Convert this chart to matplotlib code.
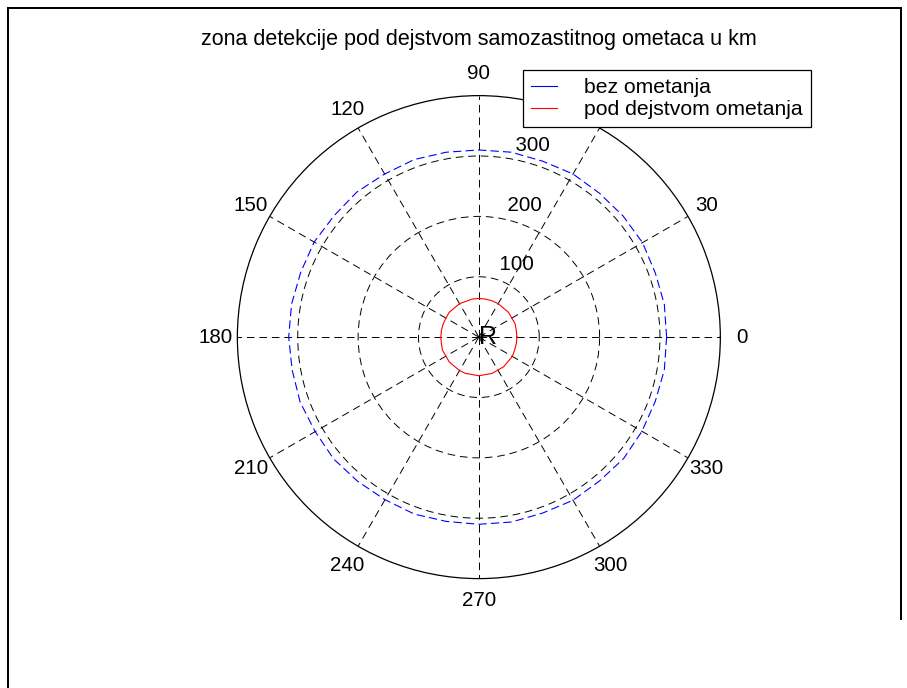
"""MATLAB-style polar plot: detection zone with and without self-protection jamming."""

import numpy as np
import matplotlib

matplotlib.use("Agg")
import matplotlib.pyplot as plt
from matplotlib.lines import Line2D

plt.rcParams["font.family"] = ["Liberation Sans", "DejaVu Sans"]
plt.rcParams["lines.scale_dashes"] = False

# ---------------------------------------------------------------------------
# data (radius in km, every 10 degrees)
# ---------------------------------------------------------------------------
angles_deg = [0, 10, 20, 30, 40, 50, 60, 70, 80, 90, 100, 110, 120,
              130, 140, 150, 160, 170, 180, 190, 200, 210, 220, 230, 240,
              250, 260, 270, 280, 290, 300, 310, 320, 330, 340, 350, 360]
r_bez = [311, 312, 311, 313, 312, 311, 312, 310, 311, 310, 311, 313, 312,
         314, 313, 315, 314, 315, 315, 314, 315, 313, 314, 312, 311,
         312, 310, 310, 311, 310, 312, 311, 313, 312, 311, 312, 311]
r_pod = [63, 63, 64, 63, 64, 63, 64, 64, 64, 64, 64, 63, 64,
         63, 64, 63, 63, 63, 63, 63, 64, 63, 64, 63, 64,
         64, 63, 64, 63, 64, 63, 64, 63, 64, 63, 63, 63]

r_max = 400
r_rings = [100, 200, 300]
spoke_deg = [0, 30, 60, 90, 120, 150, 180, 210, 240, 270, 300, 330]

title = "zona detekcije pod dejstvom samozastitnog ometaca u km"
labels = ["bez ometanja", "pod dejstvom ometanja"]

# ---------------------------------------------------------------------------
fig = plt.figure(figsize=(9.07, 6.88), dpi=100)
ax = fig.add_axes([0.2617, 0.159, 0.5325, 0.702], projection="polar")

th = np.deg2rad(angles_deg)
ax.plot(th, r_bez, color="blue", lw=0.8, linestyle=(0, (6, 3)))
ax.plot(th, r_pod, color="red", lw=0.8)

ax.set_ylim(0, r_max)
ax.set_yticks(r_rings)
ax.set_yticklabels([])
ax.set_xticks(np.deg2rad(spoke_deg))
ax.set_xticklabels([])
ax.tick_params(length=0)
ax.grid(True, color="k", lw=0.7, linestyle=(0, (5.5, 3.5)))
ax.spines["polar"].set_color("k")
ax.spines["polar"].set_linewidth(0.9)

# angle labels outside the circle
for d in spoke_deg:
    ax.text(np.deg2rad(d), 1.09 * r_max, str(d), ha="center", va="center",
            fontsize=14.8)

# ring labels at 82 degrees, like MATLAB's polar()
for r in r_rings:
    ax.text(np.deg2rad(82), r + 5, "  " + str(r), ha="left", va="bottom",
            fontsize=14.8)

ax.text(0, 0, "R", ha="left", va="center", fontsize=18)

fig.text(0.528, 1 - 40 / 688, title, ha="center", va="center", fontsize=15.5)

# short legend samples, as MATLAB draws them
handles = [Line2D([], [], color="blue", lw=0.8), Line2D([], [], color="red", lw=0.8)]
leg = fig.legend(handles, labels, loc="upper left",
                 bbox_to_anchor=(523 / 907, 1 - 70 / 688),
                 fontsize=15.2, frameon=True, fancybox=False, framealpha=1,
                 edgecolor="k", borderaxespad=0, borderpad=0.4,
                 handlelength=1.2, handletextpad=1.3, labelspacing=0.12)
leg.get_frame().set_linewidth(0.9)

# outer frame of the figure window
fw = 1.44
fig.add_artist(Line2D([7.5 / 907, 7.5 / 907], [0, 1 - 7.5 / 688], color="k", lw=fw,
                      transform=fig.transFigure))
fig.add_artist(Line2D([7.5 / 907, 901 / 907], [1 - 7.5 / 688, 1 - 7.5 / 688], color="k",
                      lw=fw, transform=fig.transFigure))
fig.add_artist(Line2D([901 / 907, 901 / 907], [1 - 7.5 / 688, 0.1], color="k", lw=fw,
                      transform=fig.transFigure))

fig.savefig("out.png", dpi=100)
